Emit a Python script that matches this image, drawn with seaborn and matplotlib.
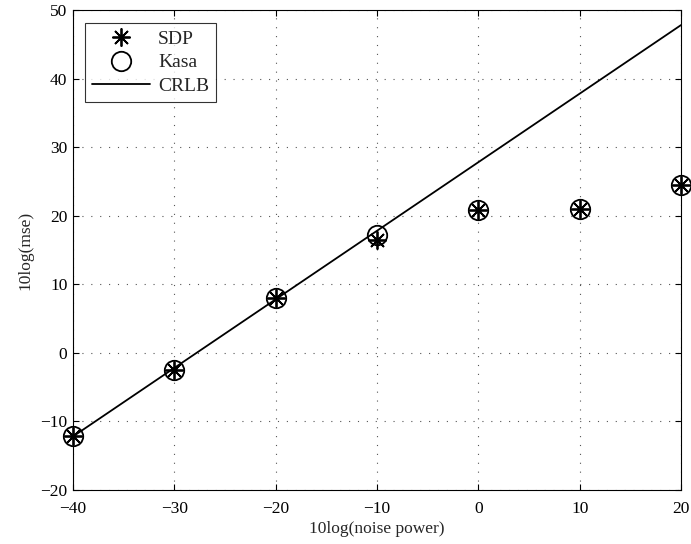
import matplotlib
matplotlib.use("Agg")
import numpy as np
import pandas as pd
import matplotlib.pyplot as plt
import seaborn as sns

# data
noise_power = [-40, -30, -20, -10, 0, 10, 20]
sdp_mse = [-12.2, -2.5, 8.0, 16.5, 20.8, 21.0, 24.5]
kasa_mse = [-12.2, -2.5, 8.0, 17.2, 20.8, 21.0, 24.5]
crlb_x = [-40, 20]
crlb_mse = [-12.2, 47.8]

sns.set_style("white")
plt.rcParams['font.family'] = ['Liberation Serif', 'DejaVu Serif']

fig = plt.figure(figsize=(6.91, 5.44), dpi=100)
ax = fig.add_axes([0.1056, 0.0993, 0.8799, 0.8823])

sns.lineplot(x=noise_power, y=sdp_mse, ax=ax, linestyle='none', marker=(8, 2, 0),
             markersize=13, markeredgewidth=1.3, markeredgecolor='black',
             color='black', label='SDP', clip_on=False, zorder=5)
sns.lineplot(x=noise_power, y=kasa_mse, ax=ax, linestyle='none', marker='o',
             markersize=14, markerfacecolor='none', markeredgecolor='black',
             markeredgewidth=1.3, color='black', label='Kasa', clip_on=False, zorder=5)
sns.lineplot(x=crlb_x, y=crlb_mse, ax=ax, color='black', linewidth=1.3, label='CRLB')

ax.set_xlim(-40, 20)
ax.set_ylim(-20, 50)
ax.set_xticks(np.arange(-40, 21, 10))
ax.set_yticks(np.arange(-20, 51, 10))
ax.grid(True, linestyle=(0, (1, 7)), color='#555555', linewidth=0.8)
ax.tick_params(direction='in', length=4, width=0.8, labelsize=12.5, colors='black',
               top=True, right=True, bottom=True, left=True)
ax.tick_params(axis='x', pad=8)
ax.tick_params(axis='y', pad=4)
for s in ax.spines.values():
    s.set_color('black')
    s.set_linewidth(0.8)

ax.set_xlabel('10log(noise power)', fontsize=12.5, labelpad=3)
ax.set_ylabel('10log(mse)', fontsize=12.5, labelpad=5)

leg = ax.legend(loc='upper left', fontsize=14, frameon=True, fancybox=False,
                edgecolor='black', borderpad=0.35, handlelength=3.0,
                labelspacing=0.3, handletextpad=0.4, borderaxespad=0,
                bbox_to_anchor=(0.02, 0.972))
leg.get_frame().set_linewidth(0.8)

fig.savefig('out.png', dpi=100)
